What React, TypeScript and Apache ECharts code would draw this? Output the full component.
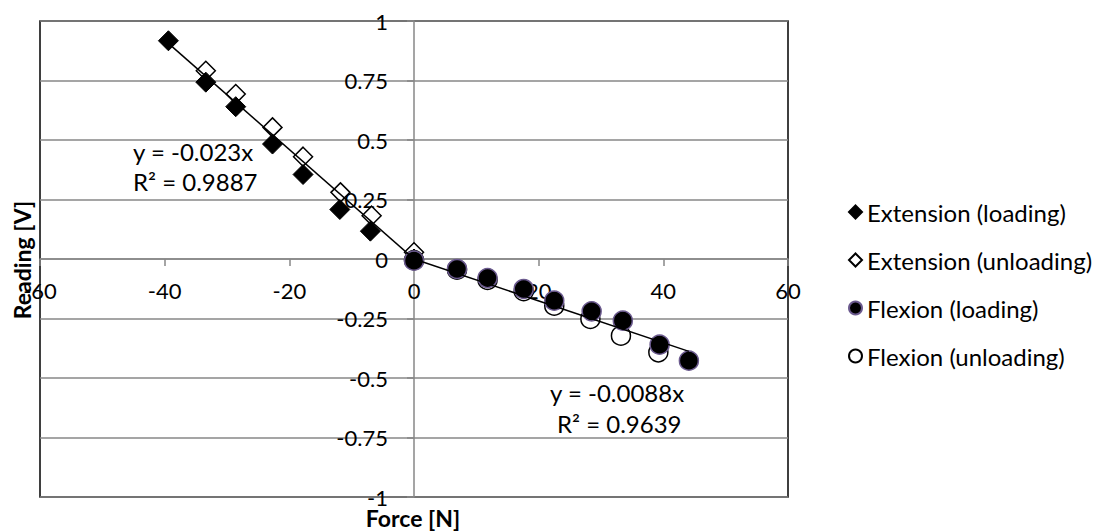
import React, { useEffect, useRef } from "react";
import * as echarts from "echarts";

const extLoadX = [-39.4, -33.4, -28.6, -22.7, -17.8, -11.9, -7.0, 0];
const extLoadY = [0.917, 0.743, 0.64, 0.483, 0.355, 0.208, 0.117, 0];
const extUnloadX = [-33.4, -28.6, -22.7, -17.8, -11.8, -6.8, 0];
const extUnloadY = [0.791, 0.693, 0.553, 0.43, 0.28, 0.182, 0.028];
const flexLoadX = [0, 6.9, 11.8, 17.6, 22.5, 28.5, 33.5, 39.4, 44.1];
const flexLoadY = [-0.007, -0.042, -0.08, -0.126, -0.175, -0.22, -0.259, -0.36, -0.427];
const flexUnloadX = [0, 6.9, 11.8, 17.6, 22.5, 28.3, 33.2, 39.2];
const flexUnloadY = [-0.005, -0.045, -0.088, -0.135, -0.196, -0.252, -0.322, -0.392];

const seriesNames = [
  "Extension (loading)",
  "Extension (unloading)",
  "Flexion (loading)",
  "Flexion (unloading)",
];
const extSlope = -0.023;
const flexSlope = -0.0088;
const extLabel = ["y = -0.023x", "R² = 0.9887"];
const flexLabel = ["y = -0.0088x", "R² = 0.9639"];
const xTitle = "Force [N]";
const yTitle = "Reading [V]";

const FONT = "Lato";

function pairs(xs: number[], ys: number[]) {
  return xs.map((x, i) => [x, ys[i]]);
}

export default function App() {
  const ref = useRef<HTMLDivElement>(null);
  useEffect(() => {
    if (!ref.current) return;
    const chart = echarts.init(ref.current, undefined, { renderer: "svg" });
    const extMin = Math.min(...extLoadX, ...extUnloadX);
    const flexMax = Math.max(...flexLoadX, ...flexUnloadX);
    const gray = "#878787";
    const GL = 40, GR = 314, GT = 21, GB = 34;
    const gw = 1102 - GL - GR;
    const gh = 531 - GT - GB;
    chart.setOption({
      animation: false,
      backgroundColor: "#ffffff",
      textStyle: { fontFamily: FONT },
      grid: {
        left: GL,
        right: GR,
        top: GT,
        bottom: GB,
        show: true,
        borderColor: "#000",
        borderWidth: 1.5,
        containLabel: false,
        outerBoundsMode: "none",
      },
      xAxis: {
        type: "value",
        min: -60,
        max: 60,
        interval: 20,
        position: "bottom",
        offset: -gh / 2,
        axisLine: { show: true, onZero: false, lineStyle: { color: gray, width: 1.5 } },
        axisTick: { show: true, length: 7, lineStyle: { color: gray, width: 1.5 } },
        axisLabel: { color: "#000", fontSize: 22, fontFamily: FONT, margin: 20, showMinLabel: true, showMaxLabel: true },
        splitLine: { show: false },
      },
      yAxis: {
        type: "value",
        min: -1,
        max: 1,
        interval: 0.25,
        position: "left",
        offset: -gw / 2,
        axisLine: { show: true, onZero: false, lineStyle: { color: gray, width: 1.5 } },
        axisTick: { show: true, length: 7, lineStyle: { color: gray, width: 1.5 } },
        axisLabel: { color: "#000", fontSize: 22, fontFamily: FONT, margin: 26, showMinLabel: true, showMaxLabel: true },
        splitLine: { show: true, lineStyle: { color: gray, width: 1.5 } },
      },
      legend: {
        data: seriesNames,
        orient: "vertical",
        left: 843,
        top: 195,
        itemWidth: 13,
        itemHeight: 13,
        itemGap: 24,
        itemTextGap: 8,
        textStyle: { color: "#000", fontSize: 24, fontFamily: FONT, lineHeight: 24 },
      },
      series: [
        {
          name: seriesNames[1],
          type: "scatter",
          symbol: "diamond",
          symbolSize: 19,
          z: 2,
          itemStyle: { color: "#fff", borderColor: "#000", borderWidth: 1.5, opacity: 1 },
          data: pairs(extUnloadX, extUnloadY),
        },
        {
          name: seriesNames[0],
          type: "scatter",
          symbol: "diamond",
          symbolSize: 20,
          z: 3,
          itemStyle: { color: "#000", borderColor: "#000", borderWidth: 1, opacity: 1 },
          data: pairs(extLoadX, extLoadY),
        },
        {
          name: seriesNames[3],
          type: "scatter",
          symbol: "circle",
          symbolSize: 19,
          z: 4,
          itemStyle: { color: "#fff", borderColor: "#000", borderWidth: 1.5, opacity: 1 },
          data: pairs(flexUnloadX, flexUnloadY),
        },
        {
          name: seriesNames[2],
          type: "scatter",
          symbol: "circle",
          symbolSize: 19,
          z: 5,
          itemStyle: { color: "#000", borderColor: "#6b5a8e", borderWidth: 1.5, opacity: 1 },
          data: pairs(flexLoadX, flexLoadY),
        },
        {
          name: "ext-trend",
          type: "line",
          z: 6,
          showSymbol: false,
          symbol: "none",
          lineStyle: { color: "#000", width: 1.5 },
          data: [
            [extMin, extSlope * extMin],
            [0, 0],
          ],
        },
        {
          name: "flex-trend",
          type: "line",
          z: 6,
          showSymbol: false,
          symbol: "none",
          lineStyle: { color: "#000", width: 1.5 },
          data: [
            [0, 0],
            [flexMax, flexSlope * flexMax],
          ],
        },
      ],
      graphic: [
        {
          type: "text",
          left: 133,
          top: 136,
          style: { text: extLabel.join("\n"), fontSize: 24, fontFamily: FONT, fill: "#000", lineHeight: 30 },
        },
        {
          type: "text",
          left: 550,
          top: 377,
          style: { text: flexLabel[0], fontSize: 24, fontFamily: FONT, fill: "#000", lineHeight: 30 },
        },
        {
          type: "text",
          left: 557,
          top: 408,
          style: { text: flexLabel[1], fontSize: 24, fontFamily: FONT, fill: "#000", lineHeight: 30 },
        },
        {
          type: "text",
          x: 413,
          y: 518,
          style: {
            text: xTitle,
            fontSize: 23,
            fontWeight: "bold",
            fontFamily: FONT,
            fill: "#000",
            align: "center",
            verticalAlign: "middle",
          },
        },
        {
          type: "text",
          x: 22,
          y: 260,
          rotation: Math.PI / 2,
          style: {
            text: yTitle,
            fontSize: 23,
            fontWeight: "bold",
            fontFamily: FONT,
            fill: "#000",
            align: "center",
            verticalAlign: "middle",
          },
        },
      ],
    });
    return () => chart.dispose();
  }, []);
  return (
    <div
      ref={ref}
      style={{ position: "fixed", left: 0, top: 0, width: 1102, height: 531, background: "#fff" }}
    />
  );
}
